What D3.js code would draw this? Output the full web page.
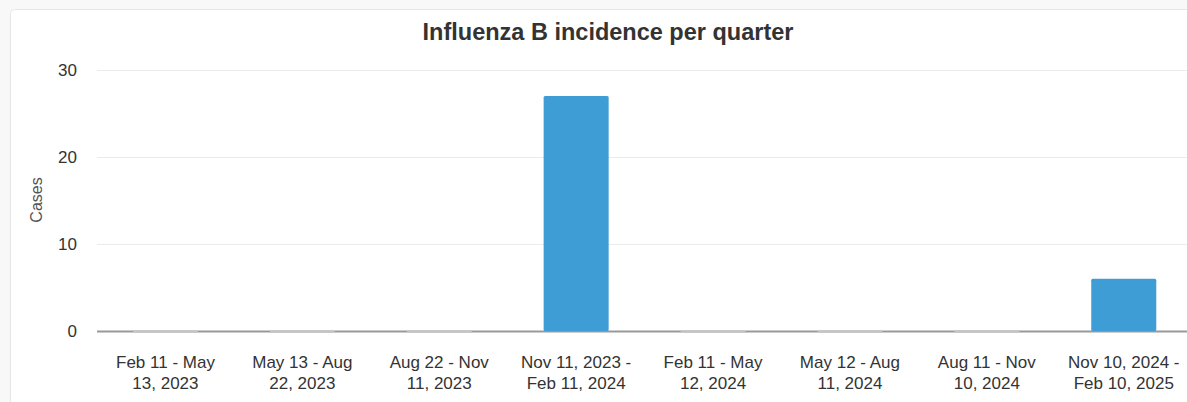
<!DOCTYPE html>
<html>
<head>
<meta charset="utf-8">
<script src="https://cdn.jsdelivr.net/npm/d3@7"></script>
<style>
  body { margin: 0; background: #f8f8f8; overflow: hidden; }
  svg { display: block; font-family: "Liberation Sans", Arial, sans-serif; }
</style>
</head>
<body>
<div id="chart"></div>
<script>
var width = 1187, height = 402;

// Quarter labels (two lines each) and counts
var quarters = [
  ['Feb 11 - May', '13, 2023'],
  ['May 13 - Aug', '22, 2023'],
  ['Aug 22 - Nov', '11, 2023'],
  ['Nov 11, 2023 -', 'Feb 11, 2024'],
  ['Feb 11 - May', '12, 2024'],
  ['May 12 - Aug', '11, 2024'],
  ['Aug 11 - Nov', '10, 2024'],
  ['Nov 10, 2024 -', 'Feb 10, 2025']
];
var cases = [0, 0, 0, 27, 0, 0, 0, 6];
var yTicks = [0, 10, 20, 30];

var svg = d3.select('#chart')
    .append('svg')
    .attr('width', width)
    .attr('height', height);

// card
svg.append('rect')
  .attr('x', 10.5)
  .attr('y', 9.5)
  .attr('width', 1200)
  .attr('height', 420)
  .attr('rx', 4)
  .attr('fill', '#fff')
  .attr('stroke', '#e6e6e6');

var x = d3.scaleBand()
    .domain(d3.range(quarters.length))
    .range([97, 97 + 8 * 136.9])
    .paddingInner(0.525)
    .paddingOuter(0.2625);

var y = d3.scaleLinear()
    .domain([0, 30])
    .range([331, 70]);

// gridlines
svg.append('g')
  .selectAll('line')
  .data(yTicks.filter(function(d) { return d > 0; }))
  .enter()
    .append('line')
      .attr('x1', 97)
      .attr('x2', width)
      .attr('y1', function(d) { return y(d) + 0.5; })
      .attr('y2', function(d) { return y(d) + 0.5; })
      .attr('stroke', '#ebebeb')
      .attr('stroke-width', 1);

// y tick labels
svg.append('g')
  .selectAll('text')
  .data(yTicks)
  .enter()
    .append('text')
      .attr('x', 77)
      .attr('y', function(d) { return y(d) + 6; })
      .attr('text-anchor', 'end')
      .attr('font-size', 17)
      .attr('fill', '#333')
      .text(function(d) { return d; });

// axis title
svg.append('text')
  .attr('transform', 'translate(42,200) rotate(-90)')
  .attr('text-anchor', 'middle')
  .attr('font-size', 16)
  .attr('fill', '#555')
  .text('Cases');

// baseline
svg.append('line')
  .attr('x1', 97)
  .attr('x2', width)
  .attr('y1', y(0) + 0.5)
  .attr('y2', y(0) + 0.5)
  .attr('stroke', '#999')
  .attr('stroke-width', 2);

// bars
svg.append('g')
  .selectAll('rect')
  .data(cases)
  .enter()
    .append('rect')
      .attr('x', function(d, i) { return x(i); })
      .attr('width', x.bandwidth())
      .attr('y', function(d) { return d > 0 ? y(d) : y(0) - 0.5; })
      .attr('height', function(d) { return d > 0 ? y(0) - y(d) : 2; })
      .attr('rx', 1.5)
      .attr('fill', function(d) { return d > 0 ? '#3f9dd6' : '#c4c4c4'; });

// x labels
var lbl = svg.append('g')
  .selectAll('text')
  .data(quarters)
  .enter()
    .append('text')
      .attr('text-anchor', 'middle')
      .attr('font-size', 17)
      .attr('fill', '#333');

lbl.append('tspan')
  .attr('x', function(d, i) { return x(i) + x.bandwidth() / 2; })
  .attr('y', 368)
  .text(function(d) { return d[0]; });

lbl.append('tspan')
  .attr('x', function(d, i) { return x(i) + x.bandwidth() / 2; })
  .attr('y', 389)
  .text(function(d) { return d[1]; });

// title
svg.append('text')
  .attr('x', 608)
  .attr('y', 40)
  .attr('text-anchor', 'middle')
  .attr('font-size', 23.5)
  .attr('font-weight', 'bold')
  .attr('fill', '#333')
  .text('Influenza B incidence per quarter');
</script>
</body>
</html>
